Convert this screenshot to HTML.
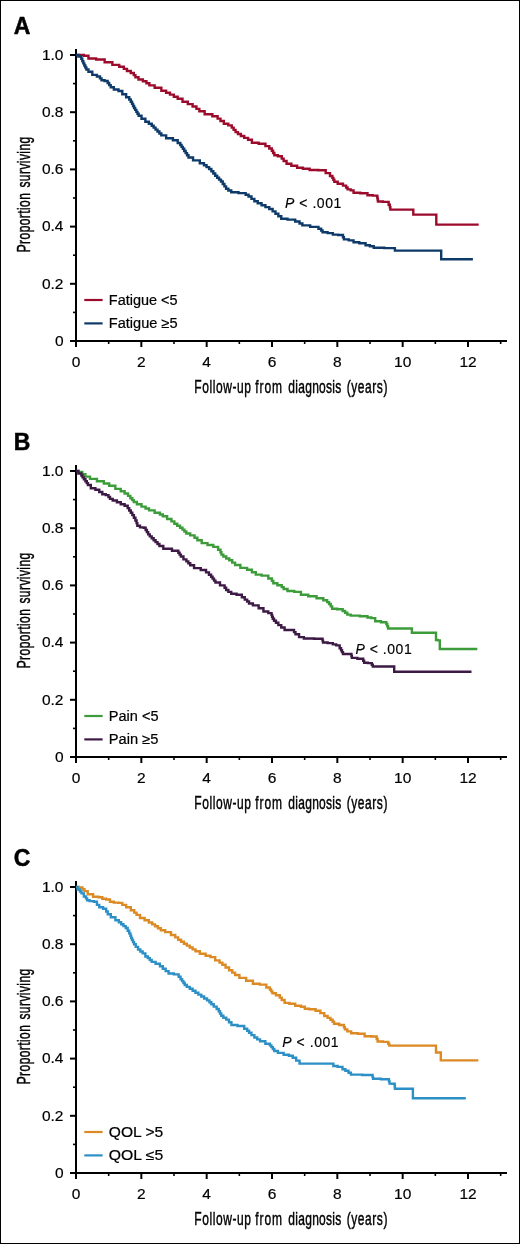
<!DOCTYPE html>
<html><head><meta charset="utf-8"><style>html,body{margin:0;padding:0;background:#fff;width:520px;height:1244px;overflow:hidden}svg{display:block;will-change:transform}</style></head>
<body><svg width="520" height="1244" viewBox="0 0 520 1244">
<rect x="0" y="0" width="520" height="1244" fill="#fff"/>
<rect x="0.5" y="0.5" width="519" height="1243" fill="none" stroke="#000" stroke-width="1"/>
<line x1="76" y1="49" x2="76" y2="347" stroke="#000" stroke-width="2"/>
<line x1="75" y1="341" x2="507" y2="341" stroke="#000" stroke-width="2"/>
<line x1="70" y1="341.00" x2="76" y2="341.00" stroke="#000" stroke-width="2"/>
<text x="63.5" y="345.80" text-anchor="end" font-size="15.5" stroke="#000" stroke-width="0.2" font-family="Liberation Sans, sans-serif">0</text>
<line x1="70" y1="283.80" x2="76" y2="283.80" stroke="#000" stroke-width="2"/>
<text x="63.5" y="288.60" text-anchor="end" font-size="15.5" stroke="#000" stroke-width="0.2" font-family="Liberation Sans, sans-serif">0.2</text>
<line x1="70" y1="226.60" x2="76" y2="226.60" stroke="#000" stroke-width="2"/>
<text x="63.5" y="231.40" text-anchor="end" font-size="15.5" stroke="#000" stroke-width="0.2" font-family="Liberation Sans, sans-serif">0.4</text>
<line x1="70" y1="169.40" x2="76" y2="169.40" stroke="#000" stroke-width="2"/>
<text x="63.5" y="174.20" text-anchor="end" font-size="15.5" stroke="#000" stroke-width="0.2" font-family="Liberation Sans, sans-serif">0.6</text>
<line x1="70" y1="112.20" x2="76" y2="112.20" stroke="#000" stroke-width="2"/>
<text x="63.5" y="117.00" text-anchor="end" font-size="15.5" stroke="#000" stroke-width="0.2" font-family="Liberation Sans, sans-serif">0.8</text>
<line x1="70" y1="55.00" x2="76" y2="55.00" stroke="#000" stroke-width="2"/>
<text x="63.5" y="59.80" text-anchor="end" font-size="15.5" stroke="#000" stroke-width="0.2" font-family="Liberation Sans, sans-serif">1.0</text>
<line x1="73" y1="312.40" x2="76" y2="312.40" stroke="#000" stroke-width="1.6"/>
<line x1="73" y1="255.20" x2="76" y2="255.20" stroke="#000" stroke-width="1.6"/>
<line x1="73" y1="198.00" x2="76" y2="198.00" stroke="#000" stroke-width="1.6"/>
<line x1="73" y1="140.80" x2="76" y2="140.80" stroke="#000" stroke-width="1.6"/>
<line x1="73" y1="83.60" x2="76" y2="83.60" stroke="#000" stroke-width="1.6"/>
<line x1="76.00" y1="341" x2="76.00" y2="347" stroke="#000" stroke-width="2"/>
<text x="76.00" y="366.8" text-anchor="middle" font-size="15.5" stroke="#000" stroke-width="0.2" font-family="Liberation Sans, sans-serif">0</text>
<line x1="108.67" y1="341" x2="108.67" y2="344" stroke="#000" stroke-width="1.6"/>
<line x1="141.33" y1="341" x2="141.33" y2="347" stroke="#000" stroke-width="2"/>
<text x="141.33" y="366.8" text-anchor="middle" font-size="15.5" stroke="#000" stroke-width="0.2" font-family="Liberation Sans, sans-serif">2</text>
<line x1="174.00" y1="341" x2="174.00" y2="344" stroke="#000" stroke-width="1.6"/>
<line x1="206.67" y1="341" x2="206.67" y2="347" stroke="#000" stroke-width="2"/>
<text x="206.67" y="366.8" text-anchor="middle" font-size="15.5" stroke="#000" stroke-width="0.2" font-family="Liberation Sans, sans-serif">4</text>
<line x1="239.33" y1="341" x2="239.33" y2="344" stroke="#000" stroke-width="1.6"/>
<line x1="272.00" y1="341" x2="272.00" y2="347" stroke="#000" stroke-width="2"/>
<text x="272.00" y="366.8" text-anchor="middle" font-size="15.5" stroke="#000" stroke-width="0.2" font-family="Liberation Sans, sans-serif">6</text>
<line x1="304.67" y1="341" x2="304.67" y2="344" stroke="#000" stroke-width="1.6"/>
<line x1="337.33" y1="341" x2="337.33" y2="347" stroke="#000" stroke-width="2"/>
<text x="337.33" y="366.8" text-anchor="middle" font-size="15.5" stroke="#000" stroke-width="0.2" font-family="Liberation Sans, sans-serif">8</text>
<line x1="370.00" y1="341" x2="370.00" y2="344" stroke="#000" stroke-width="1.6"/>
<line x1="402.67" y1="341" x2="402.67" y2="347" stroke="#000" stroke-width="2"/>
<text x="402.67" y="366.8" text-anchor="middle" font-size="15.5" stroke="#000" stroke-width="0.2" font-family="Liberation Sans, sans-serif">10</text>
<line x1="435.33" y1="341" x2="435.33" y2="344" stroke="#000" stroke-width="1.6"/>
<line x1="468.00" y1="341" x2="468.00" y2="347" stroke="#000" stroke-width="2"/>
<text x="468.00" y="366.8" text-anchor="middle" font-size="15.5" stroke="#000" stroke-width="0.2" font-family="Liberation Sans, sans-serif">12</text>
<line x1="500.67" y1="341" x2="500.67" y2="344" stroke="#000" stroke-width="1.6"/>
<text transform="translate(194.3,393.2) scale(0.65,1)" x="0" y="0" font-size="18.5" textLength="87.08" lengthAdjust="spacing" stroke="#000" stroke-width="0.45" font-family="Liberation Sans, sans-serif">Follow-up</text>
<text transform="translate(255.3,393.2) scale(0.65,1)" x="0" y="0" font-size="18.5" textLength="41.23" lengthAdjust="spacing" stroke="#000" stroke-width="0.45" font-family="Liberation Sans, sans-serif">from</text>
<text transform="translate(288.3,393.2) scale(0.65,1)" x="0" y="0" font-size="18.5" textLength="81.54" lengthAdjust="spacing" stroke="#000" stroke-width="0.45" font-family="Liberation Sans, sans-serif">diagnosis</text>
<text transform="translate(346.8,393.2) scale(0.65,1)" x="0" y="0" font-size="18.5" textLength="62.46" lengthAdjust="spacing" stroke="#000" stroke-width="0.45" font-family="Liberation Sans, sans-serif">(years)</text>
<text transform="translate(29.6,252.3) rotate(-90) scale(0.65,1)" x="0" y="0" font-size="18.5" textLength="91.08" lengthAdjust="spacing" stroke="#000" stroke-width="0.45" font-family="Liberation Sans, sans-serif">Proportion</text>
<text transform="translate(29.6,187.6) rotate(-90) scale(0.65,1)" x="0" y="0" font-size="18.5" textLength="78.31" lengthAdjust="spacing" stroke="#000" stroke-width="0.45" font-family="Liberation Sans, sans-serif">surviving</text>
<text x="13.8" y="33.5" font-size="23" font-weight="bold" stroke="#000" stroke-width="0.5" font-family="Liberation Sans, sans-serif">A</text>
<line x1="84.3" y1="300" x2="102.6" y2="300" stroke="#9c0b2b" stroke-width="2.2"/>
<line x1="84.3" y1="323.4" x2="102.6" y2="323.4" stroke="#0d3a68" stroke-width="2.2"/>
<text x="108.8" y="305" font-size="14" textLength="68.8" lengthAdjust="spacingAndGlyphs" stroke="#000" stroke-width="0.2" font-family="Liberation Sans, sans-serif">Fatigue &lt;5</text>
<text x="108.8" y="328" font-size="14" textLength="68.8" lengthAdjust="spacingAndGlyphs" stroke="#000" stroke-width="0.2" font-family="Liberation Sans, sans-serif">Fatigue ≥5</text>
<text x="285" y="207.6" font-size="14" textLength="56.3" lengthAdjust="spacing" stroke="#000" stroke-width="0.15" font-family="Liberation Sans, sans-serif"><tspan font-style="italic">P</tspan> &lt; .001</text>
<polyline points="76.00,55.00 79.15,55.00 79.15,54.90 82.30,54.90 83.85,54.90 83.85,55.70 85.40,55.70 88.45,55.70 88.45,58.50 91.50,58.50 96.15,58.50 96.15,59.50 100.80,59.50 104.65,59.50 104.65,62.20 108.50,62.20 112.35,62.20 112.35,64.90 116.20,64.90 119.25,64.90 119.25,66.80 122.30,66.80 123.85,66.80 123.85,68.90 126.95,68.90 126.95,71.00 128.50,71.00 130.75,71.00 130.75,73.00 133.00,73.00 133.80,73.00 133.80,75.10 135.40,75.10 135.40,77.20 136.20,77.20 138.50,77.20 138.50,79.50 140.80,79.50 142.90,79.50 142.90,81.20 145.00,81.20 146.45,81.20 146.45,83.30 149.35,83.30 149.35,85.40 150.80,85.40 154.65,85.40 154.65,87.70 158.50,87.70 161.35,87.70 161.35,90.80 164.20,90.80 166.12,90.80 166.12,92.70 169.97,92.70 169.97,94.60 171.90,94.60 173.82,94.60 173.82,96.70 177.68,96.70 177.68,98.80 179.60,98.80 182.50,98.80 182.50,101.70 185.40,101.70 187.80,101.70 187.80,104.10 192.60,104.10 192.60,106.50 195.00,106.50 196.45,106.50 196.45,108.90 199.35,108.90 199.35,111.30 200.80,111.30 204.65,111.30 204.65,114.20 208.50,114.20 212.35,114.20 212.35,116.20 216.20,116.20 217.62,116.20 217.62,118.60 220.47,118.60 220.47,121.00 221.90,121.00 223.85,121.00 223.85,123.80 225.80,123.80 228.30,123.80 228.30,125.40 230.80,125.40 231.75,125.40 231.75,127.63 233.65,127.63 233.65,129.87 235.55,129.87 235.55,132.10 236.50,132.10 237.95,132.10 237.95,134.05 240.85,134.05 240.85,136.00 242.30,136.00 244.23,136.00 244.23,137.90 248.07,137.90 248.07,139.80 250.00,139.80 251.90,139.80 251.90,142.70 253.80,142.70 258.65,142.70 258.65,143.70 263.50,143.70 265.43,143.70 265.43,146.10 269.27,146.10 269.27,148.50 271.20,148.50 271.83,148.50 271.83,150.73 273.10,150.73 273.10,152.97 274.37,152.97 274.37,155.20 275.00,155.20 277.90,155.20 277.90,156.20 280.80,156.20 281.75,156.20 281.75,158.60 283.65,158.60 283.65,161.00 284.60,161.00 286.55,161.00 286.55,163.80 288.50,163.80 291.35,163.80 291.35,165.80 294.20,165.80 297.10,165.80 297.10,167.70 300.00,167.70 302.90,167.70 302.90,168.70 305.80,168.70 309.65,168.70 309.65,170.00 313.50,170.00 318.40,170.00 318.40,170.20 323.30,170.20 325.70,170.20 325.70,173.10 328.10,173.10 330.00,173.10 330.00,176.00 331.90,176.00 332.38,176.00 332.38,177.90 333.35,177.90 333.35,179.80 334.32,179.80 334.32,181.70 334.80,181.70 337.70,181.70 337.70,183.70 340.60,183.70 343.00,183.70 343.00,185.60 345.40,185.60 346.12,185.60 346.12,187.50 347.57,187.50 347.57,189.40 348.30,189.40 350.70,189.40 350.70,190.40 353.10,190.40 353.55,190.40 353.55,192.70 354.00,192.70 360.25,192.70 360.25,193.30 366.50,193.30 367.50,193.30 367.50,195.20 368.50,195.20 372.80,195.20 372.80,195.60 377.10,195.60 377.27,195.60 377.27,197.57 377.60,197.57 377.60,199.53 377.93,199.53 377.93,201.50 378.10,201.50 382.90,201.50 382.90,201.90 387.70,201.90 388.65,201.90 388.65,204.80 389.60,204.80 389.85,204.80 389.85,207.20 390.35,207.20 390.35,209.60 390.60,209.60 413.30,209.60 413.30,214.60 436.30,214.60 436.30,224.60 478.70,224.60" fill="none" stroke="#9c0b2b" stroke-width="2.4" stroke-linejoin="miter" stroke-linecap="butt"/>
<polyline points="76.00,55.00 78.40,55.00 78.40,56.50 80.80,56.50 81.30,56.50 81.30,58.80 82.30,58.80 82.30,61.10 83.30,61.10 83.30,63.40 83.80,63.40 84.32,63.40 84.32,65.43 85.35,65.43 85.35,67.47 86.38,67.47 86.38,69.50 86.90,69.50 88.45,69.50 88.45,71.80 90.00,71.80 92.30,71.80 92.30,74.90 94.60,74.90 96.90,74.90 96.90,76.50 99.20,76.50 99.97,76.50 99.97,78.40 101.53,78.40 101.53,80.30 102.30,80.30 104.60,80.30 104.60,81.00 106.90,81.00 107.67,81.00 107.67,83.07 109.20,83.07 109.20,85.13 110.73,85.13 110.73,87.20 111.50,87.20 113.85,87.20 113.85,89.50 116.20,89.50 118.50,89.50 118.50,91.00 120.80,91.00 122.30,91.00 122.30,94.20 123.80,94.20 126.15,94.20 126.15,97.20 128.50,97.20 129.25,97.20 129.25,99.50 130.75,99.50 130.75,101.80 131.50,101.80 132.02,101.80 132.02,103.87 133.05,103.87 133.05,105.93 134.08,105.93 134.08,108.00 134.60,108.00 135.17,108.00 135.17,109.92 136.32,109.92 136.32,111.85 137.47,111.85 137.47,113.78 138.62,113.78 138.62,115.70 139.20,115.70 141.50,115.70 141.50,118.80 143.80,118.80 145.35,118.80 145.35,121.80 146.90,121.80 148.85,121.80 148.85,123.80 150.80,123.80 151.75,123.80 151.75,125.73 153.65,125.73 153.65,127.67 155.55,127.67 155.55,129.60 156.50,129.60 157.47,129.60 157.47,131.53 159.40,131.53 159.40,133.47 161.33,133.47 161.33,135.40 162.30,135.40 166.15,135.40 166.15,138.30 170.00,138.30 172.90,138.30 172.90,140.20 175.80,140.20 177.70,140.20 177.70,143.00 179.60,143.00 180.25,143.00 180.25,144.93 181.55,144.93 181.55,146.87 182.85,146.87 182.85,148.80 183.50,148.80 184.21,148.80 184.21,150.98 185.64,150.98 185.64,153.15 187.06,153.15 187.06,155.32 188.49,155.32 188.49,157.50 189.20,157.50 193.05,157.50 193.05,160.40 196.90,160.40 199.80,160.40 199.80,163.30 202.70,163.30 203.98,163.30 203.98,165.20 206.55,165.20 206.55,167.10 209.12,167.10 209.12,169.00 210.40,169.00 211.37,169.00 211.37,171.27 213.30,171.27 213.30,173.53 215.23,173.53 215.23,175.80 216.20,175.80 217.15,175.80 217.15,177.70 219.05,177.70 219.05,179.60 220.95,179.60 220.95,181.50 221.90,181.50 222.73,181.50 222.73,183.93 224.40,183.93 224.40,186.37 226.07,186.37 226.07,188.80 226.90,188.80 228.35,188.80 228.35,190.55 231.25,190.55 231.25,192.30 232.70,192.30 238.45,192.30 238.45,193.10 244.20,193.10 245.65,193.10 245.65,194.80 248.55,194.80 248.55,196.50 250.00,196.50 251.45,196.50 251.45,198.90 254.35,198.90 254.35,201.30 255.80,201.30 257.73,201.30 257.73,203.25 261.57,203.25 261.57,205.20 263.50,205.20 265.43,205.20 265.43,207.10 269.27,207.10 269.27,209.00 271.20,209.00 272.62,209.00 272.62,211.40 275.47,211.40 275.47,213.80 276.90,213.80 278.35,213.80 278.35,216.25 281.25,216.25 281.25,218.70 282.70,218.70 287.50,218.70 287.50,219.60 292.30,219.60 295.20,219.60 295.20,221.50 298.10,221.50 299.53,221.50 299.53,223.45 302.38,223.45 302.38,225.40 303.80,225.40 310.15,225.40 310.15,226.90 316.50,226.90 318.45,226.90 318.45,228.80 320.40,228.80 321.12,228.80 321.12,230.55 322.57,230.55 322.57,232.30 323.30,232.30 327.60,232.30 327.60,233.10 331.90,233.10 332.85,233.10 332.85,234.60 333.80,234.60 338.15,234.60 338.15,235.00 342.50,235.00 342.98,235.00 342.98,237.20 343.92,237.20 343.92,239.40 344.40,239.40 348.75,239.40 348.75,240.40 353.10,240.40 353.55,240.40 353.55,242.30 354.00,242.30 359.30,242.30 359.30,243.30 364.60,243.30 365.55,243.30 365.55,245.20 366.50,245.20 369.90,245.20 369.90,246.20 373.30,246.20 373.75,246.20 373.75,247.70 374.20,247.70 384.30,247.70 384.30,248.10 394.40,248.10 394.90,248.10 394.90,250.60 395.40,250.60 441.20,250.60 441.20,259.20 472.90,259.20" fill="none" stroke="#0d3a68" stroke-width="2.4" stroke-linejoin="miter" stroke-linecap="butt"/>
<line x1="76" y1="465" x2="76" y2="763" stroke="#000" stroke-width="2"/>
<line x1="75" y1="757" x2="507" y2="757" stroke="#000" stroke-width="2"/>
<line x1="70" y1="757.00" x2="76" y2="757.00" stroke="#000" stroke-width="2"/>
<text x="63.5" y="761.80" text-anchor="end" font-size="15.5" stroke="#000" stroke-width="0.2" font-family="Liberation Sans, sans-serif">0</text>
<line x1="70" y1="699.80" x2="76" y2="699.80" stroke="#000" stroke-width="2"/>
<text x="63.5" y="704.60" text-anchor="end" font-size="15.5" stroke="#000" stroke-width="0.2" font-family="Liberation Sans, sans-serif">0.2</text>
<line x1="70" y1="642.60" x2="76" y2="642.60" stroke="#000" stroke-width="2"/>
<text x="63.5" y="647.40" text-anchor="end" font-size="15.5" stroke="#000" stroke-width="0.2" font-family="Liberation Sans, sans-serif">0.4</text>
<line x1="70" y1="585.40" x2="76" y2="585.40" stroke="#000" stroke-width="2"/>
<text x="63.5" y="590.20" text-anchor="end" font-size="15.5" stroke="#000" stroke-width="0.2" font-family="Liberation Sans, sans-serif">0.6</text>
<line x1="70" y1="528.20" x2="76" y2="528.20" stroke="#000" stroke-width="2"/>
<text x="63.5" y="533.00" text-anchor="end" font-size="15.5" stroke="#000" stroke-width="0.2" font-family="Liberation Sans, sans-serif">0.8</text>
<line x1="70" y1="471.00" x2="76" y2="471.00" stroke="#000" stroke-width="2"/>
<text x="63.5" y="475.80" text-anchor="end" font-size="15.5" stroke="#000" stroke-width="0.2" font-family="Liberation Sans, sans-serif">1.0</text>
<line x1="73" y1="728.40" x2="76" y2="728.40" stroke="#000" stroke-width="1.6"/>
<line x1="73" y1="671.20" x2="76" y2="671.20" stroke="#000" stroke-width="1.6"/>
<line x1="73" y1="614.00" x2="76" y2="614.00" stroke="#000" stroke-width="1.6"/>
<line x1="73" y1="556.80" x2="76" y2="556.80" stroke="#000" stroke-width="1.6"/>
<line x1="73" y1="499.60" x2="76" y2="499.60" stroke="#000" stroke-width="1.6"/>
<line x1="76.00" y1="757" x2="76.00" y2="763" stroke="#000" stroke-width="2"/>
<text x="76.00" y="782.8" text-anchor="middle" font-size="15.5" stroke="#000" stroke-width="0.2" font-family="Liberation Sans, sans-serif">0</text>
<line x1="108.67" y1="757" x2="108.67" y2="760" stroke="#000" stroke-width="1.6"/>
<line x1="141.33" y1="757" x2="141.33" y2="763" stroke="#000" stroke-width="2"/>
<text x="141.33" y="782.8" text-anchor="middle" font-size="15.5" stroke="#000" stroke-width="0.2" font-family="Liberation Sans, sans-serif">2</text>
<line x1="174.00" y1="757" x2="174.00" y2="760" stroke="#000" stroke-width="1.6"/>
<line x1="206.67" y1="757" x2="206.67" y2="763" stroke="#000" stroke-width="2"/>
<text x="206.67" y="782.8" text-anchor="middle" font-size="15.5" stroke="#000" stroke-width="0.2" font-family="Liberation Sans, sans-serif">4</text>
<line x1="239.33" y1="757" x2="239.33" y2="760" stroke="#000" stroke-width="1.6"/>
<line x1="272.00" y1="757" x2="272.00" y2="763" stroke="#000" stroke-width="2"/>
<text x="272.00" y="782.8" text-anchor="middle" font-size="15.5" stroke="#000" stroke-width="0.2" font-family="Liberation Sans, sans-serif">6</text>
<line x1="304.67" y1="757" x2="304.67" y2="760" stroke="#000" stroke-width="1.6"/>
<line x1="337.33" y1="757" x2="337.33" y2="763" stroke="#000" stroke-width="2"/>
<text x="337.33" y="782.8" text-anchor="middle" font-size="15.5" stroke="#000" stroke-width="0.2" font-family="Liberation Sans, sans-serif">8</text>
<line x1="370.00" y1="757" x2="370.00" y2="760" stroke="#000" stroke-width="1.6"/>
<line x1="402.67" y1="757" x2="402.67" y2="763" stroke="#000" stroke-width="2"/>
<text x="402.67" y="782.8" text-anchor="middle" font-size="15.5" stroke="#000" stroke-width="0.2" font-family="Liberation Sans, sans-serif">10</text>
<line x1="435.33" y1="757" x2="435.33" y2="760" stroke="#000" stroke-width="1.6"/>
<line x1="468.00" y1="757" x2="468.00" y2="763" stroke="#000" stroke-width="2"/>
<text x="468.00" y="782.8" text-anchor="middle" font-size="15.5" stroke="#000" stroke-width="0.2" font-family="Liberation Sans, sans-serif">12</text>
<line x1="500.67" y1="757" x2="500.67" y2="760" stroke="#000" stroke-width="1.6"/>
<text transform="translate(194.3,809.2) scale(0.65,1)" x="0" y="0" font-size="18.5" textLength="87.08" lengthAdjust="spacing" stroke="#000" stroke-width="0.45" font-family="Liberation Sans, sans-serif">Follow-up</text>
<text transform="translate(255.3,809.2) scale(0.65,1)" x="0" y="0" font-size="18.5" textLength="41.23" lengthAdjust="spacing" stroke="#000" stroke-width="0.45" font-family="Liberation Sans, sans-serif">from</text>
<text transform="translate(288.3,809.2) scale(0.65,1)" x="0" y="0" font-size="18.5" textLength="81.54" lengthAdjust="spacing" stroke="#000" stroke-width="0.45" font-family="Liberation Sans, sans-serif">diagnosis</text>
<text transform="translate(346.8,809.2) scale(0.65,1)" x="0" y="0" font-size="18.5" textLength="62.46" lengthAdjust="spacing" stroke="#000" stroke-width="0.45" font-family="Liberation Sans, sans-serif">(years)</text>
<text transform="translate(29.6,668.3) rotate(-90) scale(0.65,1)" x="0" y="0" font-size="18.5" textLength="91.08" lengthAdjust="spacing" stroke="#000" stroke-width="0.45" font-family="Liberation Sans, sans-serif">Proportion</text>
<text transform="translate(29.6,603.6) rotate(-90) scale(0.65,1)" x="0" y="0" font-size="18.5" textLength="78.31" lengthAdjust="spacing" stroke="#000" stroke-width="0.45" font-family="Liberation Sans, sans-serif">surviving</text>
<text x="13.8" y="449.5" font-size="23" font-weight="bold" stroke="#000" stroke-width="0.5" font-family="Liberation Sans, sans-serif">B</text>
<line x1="84.3" y1="716" x2="102.6" y2="716" stroke="#3d9c3a" stroke-width="2.2"/>
<line x1="84.3" y1="739.4" x2="102.6" y2="739.4" stroke="#3d1a45" stroke-width="2.2"/>
<text x="108.8" y="721" font-size="14" textLength="49.7" lengthAdjust="spacingAndGlyphs" stroke="#000" stroke-width="0.2" font-family="Liberation Sans, sans-serif">Pain &lt;5</text>
<text x="108.8" y="744" font-size="14" textLength="49.7" lengthAdjust="spacingAndGlyphs" stroke="#000" stroke-width="0.2" font-family="Liberation Sans, sans-serif">Pain ≥5</text>
<text x="355.4" y="653.6" font-size="14" textLength="56.3" lengthAdjust="spacing" stroke="#000" stroke-width="0.15" font-family="Liberation Sans, sans-serif"><tspan font-style="italic">P</tspan> &lt; .001</text>
<polyline points="76.00,471.00 78.40,471.00 78.40,472.00 80.80,472.00 82.30,472.00 82.30,474.30 83.80,474.30 85.35,474.30 85.35,476.60 86.90,476.60 90.00,476.60 90.00,478.90 93.10,478.90 96.95,478.90 96.95,481.20 100.80,481.20 103.85,481.20 103.85,483.50 106.90,483.50 109.20,483.50 109.20,485.80 111.50,485.80 115.35,485.80 115.35,488.90 119.20,488.90 120.75,488.90 120.75,491.20 122.30,491.20 124.60,491.20 124.60,493.50 126.90,493.50 128.05,493.50 128.05,495.85 130.35,495.85 130.35,498.20 131.50,498.20 132.28,498.20 132.28,500.10 133.82,500.10 133.82,502.00 134.60,502.00 136.90,502.00 136.90,504.30 139.20,504.30 141.50,504.30 141.50,506.60 143.80,506.60 145.55,506.60 145.55,508.50 149.05,508.50 149.05,510.40 150.80,510.40 154.65,510.40 154.65,512.70 158.50,512.70 159.93,512.70 159.93,514.45 162.77,514.45 162.77,516.20 164.20,516.20 167.10,516.20 167.10,519.00 170.00,519.00 171.45,519.00 171.45,521.40 174.35,521.40 174.35,523.80 175.80,523.80 177.23,523.80 177.23,525.75 180.07,525.75 180.07,527.70 181.50,527.70 182.47,527.70 182.47,529.63 184.40,529.63 184.40,531.57 186.33,531.57 186.33,533.50 187.30,533.50 190.20,533.50 190.20,535.40 193.10,535.40 194.53,535.40 194.53,537.80 197.38,537.80 197.38,540.20 198.80,540.20 201.70,540.20 201.70,543.10 204.60,543.10 207.50,543.10 207.50,545.00 210.40,545.00 213.30,545.00 213.30,546.90 216.20,546.90 218.10,546.90 218.10,549.80 220.00,549.80 220.47,549.80 220.47,552.20 221.43,552.20 221.43,554.60 221.90,554.60 223.35,554.60 223.35,556.55 226.25,556.55 226.25,558.50 227.70,558.50 229.25,558.50 229.25,560.20 230.80,560.20 232.23,560.20 232.23,562.60 235.07,562.60 235.07,565.00 236.50,565.00 240.35,565.00 240.35,567.90 244.20,567.90 247.10,567.90 247.10,569.80 250.00,569.80 251.93,569.80 251.93,572.20 255.77,572.20 255.77,574.60 257.70,574.60 261.55,574.60 261.55,575.60 265.40,575.60 268.30,575.60 268.30,578.50 271.20,578.50 271.90,578.50 271.90,580.90 273.30,580.90 273.30,583.30 274.00,583.30 277.40,583.30 277.40,585.20 280.80,585.20 281.75,585.20 281.75,587.10 283.65,587.10 283.65,589.00 284.60,589.00 287.50,589.00 287.50,591.00 290.40,591.00 294.25,591.00 294.25,591.90 298.10,591.90 300.95,591.90 300.95,594.80 303.80,594.80 308.25,594.80 308.25,596.30 312.70,596.30 316.55,596.30 316.55,598.30 320.40,598.30 323.30,598.30 323.30,600.20 326.20,600.20 327.15,600.20 327.15,602.10 329.05,602.10 329.05,604.00 330.00,604.00 330.73,604.00 330.73,606.40 332.17,606.40 332.17,608.80 332.90,608.80 337.20,608.80 337.20,609.20 341.50,609.20 342.70,609.20 342.70,610.95 345.10,610.95 345.10,612.70 346.30,612.70 347.30,612.70 347.30,614.60 348.30,614.60 350.70,614.60 350.70,615.60 353.10,615.60 359.80,615.60 359.80,616.20 366.50,616.20 367.50,616.20 367.50,617.50 368.50,617.50 371.35,617.50 371.35,618.10 374.20,618.10 375.20,618.10 375.20,621.30 376.20,621.30 381.00,621.30 381.00,622.30 385.80,622.30 386.35,622.30 386.35,624.00 386.90,624.00 387.30,624.00 387.30,626.25 388.10,626.25 388.10,628.50 388.50,628.50 411.90,628.50 411.90,632.70 436.00,632.70 436.00,640.00 437.90,640.00 437.90,640.40 439.80,640.40 439.80,649.00 477.30,649.00" fill="none" stroke="#3d9c3a" stroke-width="2.4" stroke-linejoin="miter" stroke-linecap="butt"/>
<polyline points="76.00,471.00 78.40,471.00 78.40,473.50 80.80,473.50 81.38,473.50 81.38,475.45 82.52,475.45 82.52,477.40 83.10,477.40 83.88,477.40 83.88,479.30 85.42,479.30 85.42,481.20 86.20,481.20 86.78,481.20 86.78,483.10 87.92,483.10 87.92,485.00 88.50,485.00 90.80,485.00 90.80,488.20 93.10,488.20 95.40,488.20 95.40,489.70 97.70,489.70 99.25,489.70 99.25,492.00 100.80,492.00 102.30,492.00 102.30,494.30 103.80,494.30 105.75,494.30 105.75,495.10 107.70,495.10 108.47,495.10 108.47,497.00 110.03,497.00 110.03,498.90 110.80,498.90 112.70,498.90 112.70,500.50 114.60,500.50 116.90,500.50 116.90,502.30 119.20,502.30 120.75,502.30 120.75,504.30 122.30,504.30 124.60,504.30 124.60,505.80 126.90,505.80 127.68,505.80 127.68,508.15 129.22,508.15 129.22,510.50 130.00,510.50 130.78,510.50 130.78,512.80 132.32,512.80 132.32,515.10 133.10,515.10 133.88,515.10 133.88,517.80 135.42,517.80 135.42,520.50 136.20,520.50 136.57,520.50 136.57,523.15 137.32,523.15 137.32,525.80 137.70,525.80 140.00,525.80 140.00,527.40 142.30,527.40 143.65,527.40 143.65,527.70 145.00,527.70 145.63,527.70 145.63,529.93 146.90,529.93 146.90,532.17 148.17,532.17 148.17,534.40 148.80,534.40 149.77,534.40 149.77,536.33 151.70,536.33 151.70,538.27 153.63,538.27 153.63,540.20 154.60,540.20 155.57,540.20 155.57,542.13 157.50,542.13 157.50,544.07 159.43,544.07 159.43,546.00 160.40,546.00 163.30,546.00 163.30,548.80 166.20,548.80 171.95,548.80 171.95,550.80 177.70,550.80 178.33,550.80 178.33,552.70 179.60,552.70 179.60,554.60 180.87,554.60 180.87,556.50 181.50,556.50 183.45,556.50 183.45,559.40 185.40,559.40 186.37,559.40 186.37,561.33 188.30,561.33 188.30,563.27 190.23,563.27 190.23,565.20 191.20,565.20 194.05,565.20 194.05,568.10 196.90,568.10 200.75,568.10 200.75,570.00 204.60,570.00 206.05,570.00 206.05,572.40 208.95,572.40 208.95,574.80 210.40,574.80 211.12,574.80 211.12,576.72 212.57,576.72 212.57,578.65 214.03,578.65 214.03,580.58 215.47,580.58 215.47,582.50 216.20,582.50 220.00,582.50 220.00,585.40 223.80,585.40 224.58,585.40 224.58,587.70 226.12,587.70 226.12,590.00 226.90,590.00 228.35,590.00 228.35,591.90 231.25,591.90 231.25,593.80 232.70,593.80 236.55,593.80 236.55,594.80 240.40,594.80 241.85,594.80 241.85,597.20 244.75,597.20 244.75,599.60 246.20,599.60 247.15,599.60 247.15,601.55 249.05,601.55 249.05,603.50 250.00,603.50 252.90,603.50 252.90,605.40 255.80,605.40 258.65,605.40 258.65,608.30 261.50,608.30 263.45,608.30 263.45,611.50 265.40,611.50 268.30,611.50 268.30,613.10 271.20,613.10 271.52,613.10 271.52,615.00 272.15,615.00 272.15,616.90 272.78,616.90 272.78,618.80 273.10,618.80 274.05,618.80 274.05,620.75 275.95,620.75 275.95,622.70 276.90,622.70 278.35,622.70 278.35,625.10 281.25,625.10 281.25,627.50 282.70,627.50 284.60,627.50 284.60,630.00 286.50,630.00 293.30,630.00 294.02,630.00 294.02,632.10 295.48,632.10 295.48,634.20 296.20,634.20 299.05,634.20 299.05,637.10 301.90,637.10 303.85,637.10 303.85,638.50 305.80,638.50 314.05,638.50 314.05,638.70 322.30,638.70 322.55,638.70 322.55,640.60 323.05,640.60 323.05,642.50 323.30,642.50 327.60,642.50 327.60,643.10 331.90,643.10 332.85,643.10 332.85,644.40 333.80,644.40 336.25,644.40 336.25,645.40 338.70,645.40 339.65,645.40 339.65,648.30 340.60,648.30 341.08,648.30 341.08,650.20 342.02,650.20 342.02,652.10 342.50,652.10 343.00,652.10 343.00,654.00 343.50,654.00 351.20,654.00 351.43,654.00 351.43,655.95 351.88,655.95 351.88,657.90 352.10,657.90 357.40,657.90 357.40,658.80 362.70,658.80 363.18,658.80 363.18,660.75 364.12,660.75 364.12,662.70 364.60,662.70 367.95,662.70 367.95,663.10 371.30,663.10 371.80,663.10 371.80,664.80 372.80,664.80 372.80,666.50 373.30,666.50 394.20,666.50 394.20,671.70 471.50,671.70" fill="none" stroke="#3d1a45" stroke-width="2.4" stroke-linejoin="miter" stroke-linecap="butt"/>
<line x1="76" y1="881" x2="76" y2="1179" stroke="#000" stroke-width="2"/>
<line x1="75" y1="1173" x2="507" y2="1173" stroke="#000" stroke-width="2"/>
<line x1="70" y1="1173.00" x2="76" y2="1173.00" stroke="#000" stroke-width="2"/>
<text x="63.5" y="1177.80" text-anchor="end" font-size="15.5" stroke="#000" stroke-width="0.2" font-family="Liberation Sans, sans-serif">0</text>
<line x1="70" y1="1115.80" x2="76" y2="1115.80" stroke="#000" stroke-width="2"/>
<text x="63.5" y="1120.60" text-anchor="end" font-size="15.5" stroke="#000" stroke-width="0.2" font-family="Liberation Sans, sans-serif">0.2</text>
<line x1="70" y1="1058.60" x2="76" y2="1058.60" stroke="#000" stroke-width="2"/>
<text x="63.5" y="1063.40" text-anchor="end" font-size="15.5" stroke="#000" stroke-width="0.2" font-family="Liberation Sans, sans-serif">0.4</text>
<line x1="70" y1="1001.40" x2="76" y2="1001.40" stroke="#000" stroke-width="2"/>
<text x="63.5" y="1006.20" text-anchor="end" font-size="15.5" stroke="#000" stroke-width="0.2" font-family="Liberation Sans, sans-serif">0.6</text>
<line x1="70" y1="944.20" x2="76" y2="944.20" stroke="#000" stroke-width="2"/>
<text x="63.5" y="949.00" text-anchor="end" font-size="15.5" stroke="#000" stroke-width="0.2" font-family="Liberation Sans, sans-serif">0.8</text>
<line x1="70" y1="887.00" x2="76" y2="887.00" stroke="#000" stroke-width="2"/>
<text x="63.5" y="891.80" text-anchor="end" font-size="15.5" stroke="#000" stroke-width="0.2" font-family="Liberation Sans, sans-serif">1.0</text>
<line x1="73" y1="1144.40" x2="76" y2="1144.40" stroke="#000" stroke-width="1.6"/>
<line x1="73" y1="1087.20" x2="76" y2="1087.20" stroke="#000" stroke-width="1.6"/>
<line x1="73" y1="1030.00" x2="76" y2="1030.00" stroke="#000" stroke-width="1.6"/>
<line x1="73" y1="972.80" x2="76" y2="972.80" stroke="#000" stroke-width="1.6"/>
<line x1="73" y1="915.60" x2="76" y2="915.60" stroke="#000" stroke-width="1.6"/>
<line x1="76.00" y1="1173" x2="76.00" y2="1179" stroke="#000" stroke-width="2"/>
<text x="76.00" y="1198.8" text-anchor="middle" font-size="15.5" stroke="#000" stroke-width="0.2" font-family="Liberation Sans, sans-serif">0</text>
<line x1="108.67" y1="1173" x2="108.67" y2="1176" stroke="#000" stroke-width="1.6"/>
<line x1="141.33" y1="1173" x2="141.33" y2="1179" stroke="#000" stroke-width="2"/>
<text x="141.33" y="1198.8" text-anchor="middle" font-size="15.5" stroke="#000" stroke-width="0.2" font-family="Liberation Sans, sans-serif">2</text>
<line x1="174.00" y1="1173" x2="174.00" y2="1176" stroke="#000" stroke-width="1.6"/>
<line x1="206.67" y1="1173" x2="206.67" y2="1179" stroke="#000" stroke-width="2"/>
<text x="206.67" y="1198.8" text-anchor="middle" font-size="15.5" stroke="#000" stroke-width="0.2" font-family="Liberation Sans, sans-serif">4</text>
<line x1="239.33" y1="1173" x2="239.33" y2="1176" stroke="#000" stroke-width="1.6"/>
<line x1="272.00" y1="1173" x2="272.00" y2="1179" stroke="#000" stroke-width="2"/>
<text x="272.00" y="1198.8" text-anchor="middle" font-size="15.5" stroke="#000" stroke-width="0.2" font-family="Liberation Sans, sans-serif">6</text>
<line x1="304.67" y1="1173" x2="304.67" y2="1176" stroke="#000" stroke-width="1.6"/>
<line x1="337.33" y1="1173" x2="337.33" y2="1179" stroke="#000" stroke-width="2"/>
<text x="337.33" y="1198.8" text-anchor="middle" font-size="15.5" stroke="#000" stroke-width="0.2" font-family="Liberation Sans, sans-serif">8</text>
<line x1="370.00" y1="1173" x2="370.00" y2="1176" stroke="#000" stroke-width="1.6"/>
<line x1="402.67" y1="1173" x2="402.67" y2="1179" stroke="#000" stroke-width="2"/>
<text x="402.67" y="1198.8" text-anchor="middle" font-size="15.5" stroke="#000" stroke-width="0.2" font-family="Liberation Sans, sans-serif">10</text>
<line x1="435.33" y1="1173" x2="435.33" y2="1176" stroke="#000" stroke-width="1.6"/>
<line x1="468.00" y1="1173" x2="468.00" y2="1179" stroke="#000" stroke-width="2"/>
<text x="468.00" y="1198.8" text-anchor="middle" font-size="15.5" stroke="#000" stroke-width="0.2" font-family="Liberation Sans, sans-serif">12</text>
<line x1="500.67" y1="1173" x2="500.67" y2="1176" stroke="#000" stroke-width="1.6"/>
<text transform="translate(194.3,1225.2) scale(0.65,1)" x="0" y="0" font-size="18.5" textLength="87.08" lengthAdjust="spacing" stroke="#000" stroke-width="0.45" font-family="Liberation Sans, sans-serif">Follow-up</text>
<text transform="translate(255.3,1225.2) scale(0.65,1)" x="0" y="0" font-size="18.5" textLength="41.23" lengthAdjust="spacing" stroke="#000" stroke-width="0.45" font-family="Liberation Sans, sans-serif">from</text>
<text transform="translate(288.3,1225.2) scale(0.65,1)" x="0" y="0" font-size="18.5" textLength="81.54" lengthAdjust="spacing" stroke="#000" stroke-width="0.45" font-family="Liberation Sans, sans-serif">diagnosis</text>
<text transform="translate(346.8,1225.2) scale(0.65,1)" x="0" y="0" font-size="18.5" textLength="62.46" lengthAdjust="spacing" stroke="#000" stroke-width="0.45" font-family="Liberation Sans, sans-serif">(years)</text>
<text transform="translate(29.6,1084.3) rotate(-90) scale(0.65,1)" x="0" y="0" font-size="18.5" textLength="91.08" lengthAdjust="spacing" stroke="#000" stroke-width="0.45" font-family="Liberation Sans, sans-serif">Proportion</text>
<text transform="translate(29.6,1019.6) rotate(-90) scale(0.65,1)" x="0" y="0" font-size="18.5" textLength="78.31" lengthAdjust="spacing" stroke="#000" stroke-width="0.45" font-family="Liberation Sans, sans-serif">surviving</text>
<text x="13.8" y="865.5" font-size="23" font-weight="bold" stroke="#000" stroke-width="0.5" font-family="Liberation Sans, sans-serif">C</text>
<line x1="84.3" y1="1132" x2="102.6" y2="1132" stroke="#dc8a24" stroke-width="2.2"/>
<line x1="84.3" y1="1155.4" x2="102.6" y2="1155.4" stroke="#2c90c6" stroke-width="2.2"/>
<text x="108.8" y="1137" font-size="14" textLength="54.4" lengthAdjust="spacingAndGlyphs" stroke="#000" stroke-width="0.2" font-family="Liberation Sans, sans-serif">QOL &gt;5</text>
<text x="108.8" y="1160" font-size="14" textLength="54.4" lengthAdjust="spacingAndGlyphs" stroke="#000" stroke-width="0.2" font-family="Liberation Sans, sans-serif">QOL ≤5</text>
<text x="282.3" y="1047.3" font-size="14" textLength="56.3" lengthAdjust="spacing" stroke="#000" stroke-width="0.15" font-family="Liberation Sans, sans-serif"><tspan font-style="italic">P</tspan> &lt; .001</text>
<polyline points="76.00,887.00 78.75,887.00 78.75,887.50 81.50,887.50 82.47,887.50 82.47,889.30 84.43,889.30 84.43,891.10 85.40,891.10 87.70,891.10 87.70,894.20 90.00,894.20 93.10,894.20 93.10,896.80 96.20,896.80 98.50,896.80 98.50,897.20 100.80,897.20 102.30,897.20 102.30,898.80 103.80,898.80 106.15,898.80 106.15,899.50 108.50,899.50 110.00,899.50 110.00,901.80 111.50,901.80 113.85,901.80 113.85,902.60 116.20,902.60 118.50,902.60 118.50,902.90 120.80,902.90 122.30,902.90 122.30,904.90 123.80,904.90 126.15,904.90 126.15,907.20 128.50,907.20 130.80,907.20 130.80,910.30 133.10,910.30 134.25,910.30 134.25,912.60 136.55,912.60 136.55,914.90 137.70,914.90 140.00,914.90 140.00,918.00 142.30,918.00 144.60,918.00 144.60,920.30 146.90,920.30 148.85,920.30 148.85,922.50 150.80,922.50 152.23,922.50 152.23,924.40 155.07,924.40 155.07,926.30 156.50,926.30 157.95,926.30 157.95,928.25 160.85,928.25 160.85,930.20 162.30,930.20 165.20,930.20 165.20,932.10 168.10,932.10 170.95,932.10 170.95,935.00 173.80,935.00 175.25,935.00 175.25,937.40 178.15,937.40 178.15,939.80 179.60,939.80 181.05,939.80 181.05,941.75 183.95,941.75 183.95,943.70 185.40,943.70 186.85,943.70 186.85,945.60 189.75,945.60 189.75,947.50 191.20,947.50 192.62,947.50 192.62,949.40 195.47,949.40 195.47,951.30 196.90,951.30 199.80,951.30 199.80,953.80 202.70,953.80 205.60,953.80 205.60,955.80 208.50,955.80 210.40,955.80 210.40,957.10 212.30,957.10 215.20,957.10 215.20,960.40 218.10,960.40 219.53,960.40 219.53,962.60 222.38,962.60 222.38,964.80 223.80,964.80 225.55,964.80 225.55,967.50 229.05,967.50 229.05,970.20 230.80,970.20 232.23,970.20 232.23,972.60 235.07,972.60 235.07,975.00 236.50,975.00 239.40,975.00 239.40,977.90 242.30,977.90 246.15,977.90 246.15,980.80 250.00,980.80 252.90,980.80 252.90,983.70 255.80,983.70 259.65,983.70 259.65,984.60 263.50,984.60 266.35,984.60 266.35,987.50 269.20,987.50 269.85,987.50 269.85,989.43 271.15,989.43 271.15,991.37 272.45,991.37 272.45,993.30 273.10,993.30 275.95,993.30 275.95,995.20 278.80,995.20 279.77,995.20 279.77,997.60 281.73,997.60 281.73,1000.00 282.70,1000.00 284.60,1000.00 284.60,1002.90 286.50,1002.90 289.40,1002.90 289.40,1003.80 292.30,1003.80 295.20,1003.80 295.20,1005.80 298.10,1005.80 300.95,1005.80 300.95,1006.70 303.80,1006.70 304.80,1006.70 304.80,1008.70 305.80,1008.70 309.25,1008.70 309.25,1009.20 312.70,1009.20 315.60,1009.20 315.60,1010.80 318.50,1010.80 320.40,1010.80 320.40,1013.10 322.30,1013.10 324.25,1013.10 324.25,1016.00 326.20,1016.00 327.62,1016.00 327.62,1017.90 330.47,1017.90 330.47,1019.80 331.90,1019.80 332.62,1019.80 332.62,1021.75 334.07,1021.75 334.07,1023.70 334.80,1023.70 339.15,1023.70 339.15,1025.00 343.50,1025.00 343.98,1025.00 343.98,1027.20 344.92,1027.20 344.92,1029.40 345.40,1029.40 347.32,1029.40 347.32,1031.35 351.18,1031.35 351.18,1033.30 353.10,1033.30 357.90,1033.30 357.90,1033.80 362.70,1033.80 364.60,1033.80 364.60,1036.20 366.50,1036.20 371.35,1036.20 371.35,1036.50 376.20,1036.50 376.68,1036.50 376.68,1039.00 377.62,1039.00 377.62,1041.50 378.10,1041.50 382.90,1041.50 382.90,1041.90 387.70,1041.90 388.23,1041.90 388.23,1043.75 389.27,1043.75 389.27,1045.60 389.80,1045.60 436.00,1045.60 436.00,1052.50 440.80,1052.50 440.80,1060.40 478.30,1060.40" fill="none" stroke="#dc8a24" stroke-width="2.4" stroke-linejoin="miter" stroke-linecap="butt"/>
<polyline points="76.00,887.00 77.60,887.00 77.60,889.50 79.20,889.50 79.97,889.50 79.97,891.45 81.53,891.45 81.53,893.40 82.30,893.40 83.85,893.40 83.85,896.50 85.40,896.50 85.98,896.50 85.98,898.40 87.12,898.40 87.12,900.30 87.70,900.30 89.60,900.30 89.60,901.10 91.50,901.10 93.85,901.10 93.85,901.80 96.20,901.80 96.95,901.80 96.95,904.90 97.70,904.90 99.25,904.90 99.25,907.20 100.80,907.20 103.10,907.20 103.10,908.80 105.40,908.80 106.18,908.80 106.18,911.50 107.72,911.50 107.72,914.20 108.50,914.20 110.80,914.20 110.80,917.20 113.10,917.20 115.40,917.20 115.40,920.30 117.70,920.30 118.85,920.30 118.85,922.25 121.15,922.25 121.15,924.20 122.30,924.20 123.45,924.20 123.45,926.10 125.75,926.10 125.75,928.00 126.90,928.00 127.68,928.00 127.68,930.70 129.22,930.70 129.22,933.40 130.00,933.40 130.38,933.40 130.38,935.70 131.12,935.70 131.12,938.00 131.50,938.00 132.02,938.00 132.02,940.07 133.05,940.07 133.05,942.13 134.08,942.13 134.08,944.20 134.60,944.20 135.75,944.20 135.75,946.85 138.05,946.85 138.05,949.50 139.20,949.50 140.35,949.50 140.35,951.45 142.65,951.45 142.65,953.40 143.80,953.40 145.35,953.40 145.35,956.50 146.90,956.50 147.85,956.50 147.85,958.10 148.80,958.10 149.78,958.10 149.78,960.00 151.72,960.00 151.72,961.90 152.70,961.90 155.60,961.90 155.60,963.80 158.50,963.80 159.93,963.80 159.93,966.25 162.77,966.25 162.77,968.70 164.20,968.70 165.65,968.70 165.65,971.10 168.55,971.10 168.55,973.50 170.00,973.50 173.85,973.50 173.85,974.40 177.70,974.40 178.65,974.40 178.65,976.80 180.55,976.80 180.55,979.20 181.50,979.20 182.15,979.20 182.15,981.13 183.45,981.13 183.45,983.07 184.75,983.07 184.75,985.00 185.40,985.00 186.85,985.00 186.85,986.90 189.75,986.90 189.75,988.80 191.20,988.80 192.62,988.80 192.62,990.75 195.47,990.75 195.47,992.70 196.90,992.70 198.35,992.70 198.35,994.60 201.25,994.60 201.25,996.50 202.70,996.50 204.15,996.50 204.15,998.45 207.05,998.45 207.05,1000.40 208.50,1000.40 209.45,1000.40 209.45,1002.30 211.35,1002.30 211.35,1004.20 212.30,1004.20 213.75,1004.20 213.75,1006.60 216.65,1006.60 216.65,1009.00 218.10,1009.00 218.73,1009.00 218.73,1011.27 220.00,1011.27 220.00,1013.53 221.27,1013.53 221.27,1015.80 221.90,1015.80 223.35,1015.80 223.35,1017.70 226.25,1017.70 226.25,1019.60 227.70,1019.60 228.95,1019.60 228.95,1022.30 231.45,1022.30 231.45,1025.00 232.70,1025.00 237.50,1025.00 237.50,1026.00 242.30,1026.00 244.25,1026.00 244.25,1028.80 246.20,1028.80 247.15,1028.80 247.15,1030.75 249.05,1030.75 249.05,1032.70 250.00,1032.70 251.45,1032.70 251.45,1035.10 254.35,1035.10 254.35,1037.50 255.80,1037.50 257.23,1037.50 257.23,1039.40 260.07,1039.40 260.07,1041.30 261.50,1041.30 265.35,1041.30 265.35,1043.70 269.20,1043.70 269.93,1043.70 269.93,1045.40 271.38,1045.40 271.38,1047.10 272.10,1047.10 272.83,1047.10 272.83,1049.05 274.27,1049.05 274.27,1051.00 275.00,1051.00 277.90,1051.00 277.90,1052.90 280.80,1052.90 283.65,1052.90 283.65,1054.80 286.50,1054.80 288.90,1054.80 288.90,1055.80 291.30,1055.80 292.75,1055.80 292.75,1057.70 294.20,1057.70 296.15,1057.70 296.15,1060.60 298.10,1060.60 299.55,1060.60 299.55,1063.60 301.00,1063.60 332.90,1063.60 333.35,1063.60 333.35,1066.00 333.80,1066.00 337.65,1066.00 337.65,1066.90 341.50,1066.90 342.50,1066.90 342.50,1069.20 343.50,1069.20 345.40,1069.20 345.40,1070.80 347.30,1070.80 348.50,1070.80 348.50,1072.70 350.90,1072.70 350.90,1074.60 352.10,1074.60 362.20,1074.60 362.20,1075.00 372.30,1075.00 372.55,1075.00 372.55,1076.90 373.05,1076.90 373.05,1078.80 373.30,1078.80 381.00,1078.80 381.00,1079.20 388.70,1079.20 388.98,1079.20 388.98,1081.40 389.52,1081.40 389.52,1083.60 389.80,1083.60 392.20,1083.60 392.20,1083.80 394.60,1083.80 394.70,1083.80 394.70,1086.30 394.90,1086.30 394.90,1088.80 395.00,1088.80 412.90,1088.80 412.90,1098.30 465.80,1098.30" fill="none" stroke="#2c90c6" stroke-width="2.4" stroke-linejoin="miter" stroke-linecap="butt"/>
</svg></body></html>
